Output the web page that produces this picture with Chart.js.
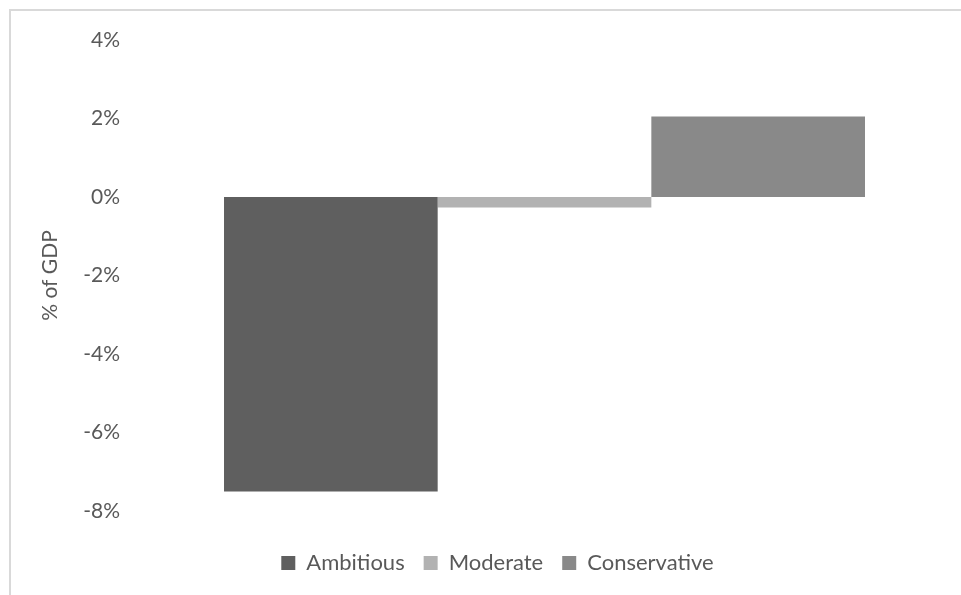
<!DOCTYPE html>
<html>
<head>
<meta charset="utf-8">
<script src="https://cdn.jsdelivr.net/npm/chart.js@4/dist/chart.umd.min.js"></script>
<style>
  html, body { margin: 0; padding: 0; background: #fff; }
  #wrap { position: relative; width: 961px; height: 595px; overflow: hidden; }
  #frame { position: absolute; left: 9px; top: 9px; width: 1000px; height: 640px;
           border-left: 2px solid #d9d9d9; border-top: 2px solid #d9d9d9; }
  #chart { position: absolute; left: 0; top: 0; }
</style>
</head>
<body>
<div id="wrap">
  <div id="frame"></div>
  <canvas id="chart" width="961" height="595"></canvas>
</div>
<script>
"use strict";

// scenario results, % of GDP
var categories = [''];
var scenarios = ['Ambitious', 'Moderate', 'Conservative'];
var ambitious = [-7.5];
var moderate = [-0.27];
var conservative = [2.05];
var colours = ['#5f5f5f', '#b2b2b2', '#898989'];
var yTicks = { min: -8, max: 4, step: 2 };

var textColour = '#595959';
var fontFamily = "Lato, 'Open Sans', sans-serif";

Chart.defaults.font.family = fontFamily;
Chart.defaults.color = textColour;

var seriesValues = [ambitious, moderate, conservative];
var datasets = scenarios.map(function (name, i) {
    return {
        label: name,
        data: seriesValues[i],
        backgroundColor: colours[i],
        borderWidth: 0,
        categoryPercentage: 0.7695,
        barPercentage: 1
    };
});

var salesChart = new Chart(document.getElementById('chart'), {
    type: 'bar',
    data: { labels: categories, datasets: datasets },
    options: {
        responsive: false,
        animation: false,
        layout: { padding: { left: 34, right: 0, top: 40, bottom: 11 } },
        plugins: {
            tooltip: { enabled: false },
            legend: {
                position: 'bottom',
                labels: {
                    boxWidth: 14,
                    boxHeight: 14,
                    padding: 19,
                    color: textColour,
                    font: { size: 22 }
                }
            }
        },
        scales: {
            x: {
                grid: { display: false, drawTicks: false },
                border: { display: false },
                ticks: { display: false },
                afterFit: function (scale) { scale.height = 22; }
            },
            y: {
                min: yTicks.min,
                max: yTicks.max,
                grid: { display: false, drawTicks: false },
                border: { display: false },
                ticks: {
                    stepSize: yTicks.step,
                    padding: 8,
                    color: textColour,
                    font: { size: 21 },
                    callback: function (v) { return v + '%'; }
                },
                title: {
                    display: true,
                    text: '% of GDP',
                    color: textColour,
                    font: { size: 21 },
                    padding: { top: 4, bottom: 12 }
                }
            }
        }
    }
});
</script>
</body>
</html>
